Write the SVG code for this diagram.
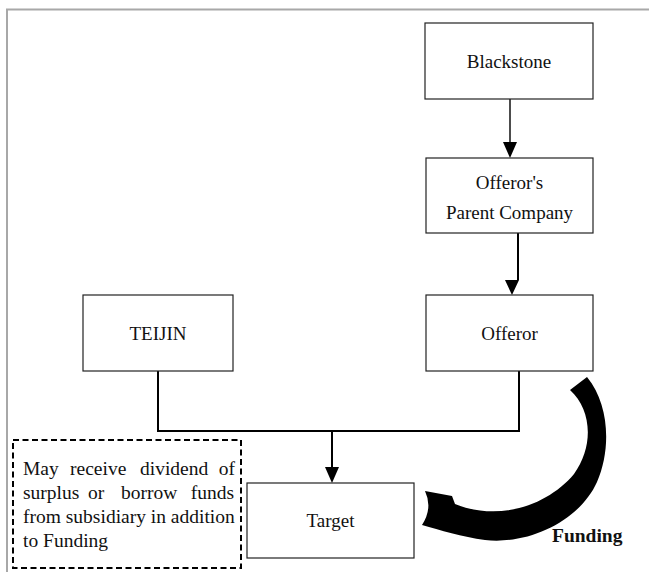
<svg xmlns="http://www.w3.org/2000/svg" width="649" height="572" viewBox="0 0 649 572">
<style>
.box{fill:#fff;stroke:#222;stroke-width:1.2}
.t{font-family:"Liberation Serif","Times New Roman",serif;font-size:19px;fill:#111;text-anchor:middle}
.n{font-family:"Liberation Serif","Times New Roman",serif;font-size:19.5px;fill:#111}
.ln{fill:none;stroke:#000;stroke-width:2}
</style>
<rect width="649" height="572" fill="#fff"/>
<path d="M7,572 V9.5 H649" fill="none" stroke="#a8a8a8" stroke-width="2"/>

<g id="connectors">
<line x1="510" y1="99" x2="510" y2="142" stroke="#000" stroke-width="1.4"/>
<polygon points="503,142 517,142 510,158" fill="#000"/>
<line x1="518" y1="233" x2="518" y2="280" class="ln"/>
<polygon points="505,280 519,280 512,295" fill="#000"/>
<polyline points="158,371 158,431 519,431 519,371" class="ln"/>
<line x1="332" y1="431" x2="332" y2="468" class="ln"/>
<polygon points="325,467 339,467 332,483" fill="#000"/>
</g>

<g id="blackstone">
<rect x="425" y="23" width="168" height="76" class="box"/>
<text x="509" y="68" class="t">Blackstone</text>
</g>
<g id="parent">
<rect x="426" y="158" width="167" height="75" class="box"/>
<text x="509.5" y="189" class="t">Offeror's</text>
<text x="509.5" y="219" class="t">Parent Company</text>
</g>
<g id="offeror">
<rect x="426" y="295" width="167" height="76" class="box"/>
<text x="509.5" y="340" class="t">Offeror</text>
</g>
<g id="teijin">
<rect x="83" y="295" width="150" height="76" class="box"/>
<text x="158" y="340" class="t">TEIJIN</text>
</g>
<g id="target">
<rect x="247" y="483" width="167" height="75" class="box"/>
<text x="330.5" y="527" class="t">Target</text>
</g>

<g id="note">
<rect x="13" y="440" width="228" height="128" fill="none" stroke="#000" stroke-width="2" stroke-dasharray="6,3.5"/>
<text class="n" y="475"><tspan x="23">May</tspan><tspan x="70">receive</tspan><tspan x="140">dividend</tspan><tspan x="235" text-anchor="end">of</tspan></text>
<text class="n" y="499"><tspan x="23">surplus</tspan><tspan x="88">or</tspan><tspan x="121">borrow</tspan><tspan x="234" text-anchor="end">funds</tspan></text>
<text class="n" y="523" x="23">from subsidiary in addition</text>
<text class="n" y="547" x="23">to Funding</text>
</g>

<g id="funding">
<path d="M587,377 C610,405 611,450 597,482 C580,520 530,545 485,540 C462,537 440,530 422,525 Q433,508 425,491 L452,496 L455,504 C500,522 548,505 574,474 C594,446 592,410 570,390 Z" fill="#000"/>
<text x="552" y="542" class="n" font-weight="bold">Funding</text>
</g>
</svg>
